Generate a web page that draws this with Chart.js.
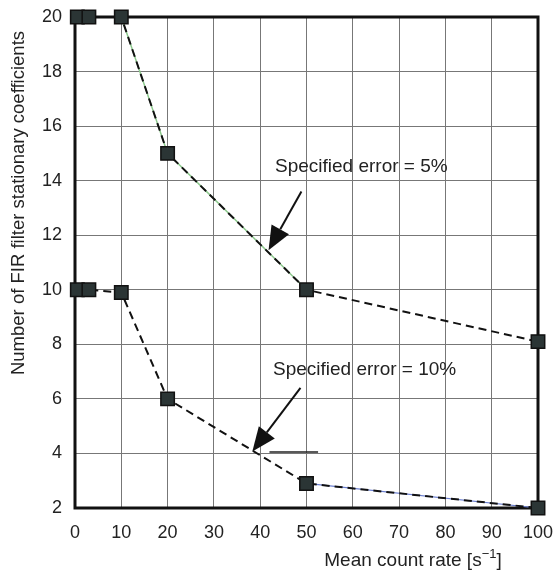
<!DOCTYPE html>
<html>
<head>
<meta charset="utf-8">
<script src="https://cdn.jsdelivr.net/npm/chart.js@4.4.1/dist/chart.umd.min.js"></script>
<style>
  html, body { margin: 0; padding: 0; background: #fff; }
  #wrap { width: 553px; height: 571px; }
</style>
</head>
<body>
<div id="wrap"><canvas id="firChart" width="553" height="571"></canvas></div>
<script>
// mean count rate (s^-1) and number of coefficients
const rateX = [0.5, 3, 10, 20, 50, 100];
const coef5 = [20, 20, 20, 15, 10, 8.1];
const coef10 = [10, 10, 9.9, 6, 2.9, 2];
const xTicks = [0, 10, 20, 30, 40, 50, 60, 70, 80, 90, 100];
const yTicks = [2, 4, 6, 8, 10, 12, 14, 16, 18, 20];

const FONT = '"Liberation Sans", Arial, Helvetica, sans-serif';

function pts(ys) {
  return rateX.map((x, i) => ({ x: x, y: ys[i] }));
}

function noPad(s) {
  s.paddingTop = 0; s.paddingBottom = 0; s.paddingLeft = 0; s.paddingRight = 0;
}

// frame, labels and arrows
const extras = {
  id: 'extras',
  beforeDatasetsDraw(chart) {
    const { ctx, chartArea: a } = chart;
    ctx.save();
    ctx.strokeStyle = '#111';
    ctx.lineWidth = 3;
    ctx.strokeRect(a.left, a.top, a.right - a.left, a.bottom - a.top);
    ctx.restore();
  },
  afterDraw(chart) {
    const { ctx, scales: { x, y } } = chart;
    ctx.save();
    ctx.fillStyle = '#222';
    ctx.font = '19px ' + FONT;
    ctx.textBaseline = 'middle';
    ctx.fillText('Specified error = 5%', 275, y.getPixelForValue(14.5));
    ctx.fillText('Specified error = 10%', 273, y.getPixelForValue(7.05));

    const arrow = (x0, y0, x1, y1) => {
      const px0 = x.getPixelForValue(x0), py0 = y.getPixelForValue(y0);
      const px1 = x.getPixelForValue(x1), py1 = y.getPixelForValue(y1);
      const ang = Math.atan2(py1 - py0, px1 - px0);
      const len = 24, half = 10;
      ctx.strokeStyle = '#111';
      ctx.lineWidth = 2;
      ctx.beginPath();
      ctx.moveTo(px0, py0);
      ctx.lineTo(px1 - Math.cos(ang) * len, py1 - Math.sin(ang) * len);
      ctx.stroke();
      ctx.beginPath();
      ctx.moveTo(px1, py1);
      ctx.lineTo(px1 - Math.cos(ang) * len + Math.sin(ang) * half, py1 - Math.sin(ang) * len - Math.cos(ang) * half);
      ctx.lineTo(px1 - Math.cos(ang) * len - Math.sin(ang) * half, py1 - Math.sin(ang) * len + Math.cos(ang) * half);
      ctx.closePath();
      ctx.fillStyle = '#111';
      ctx.fill();
    };
    arrow(48.9, 13.6, 41.8, 11.45);
    arrow(48.7, 6.4, 38.3, 4.07);

    // short stroke next to the 10% arrow tip
    ctx.strokeStyle = '#222';
    ctx.lineWidth = 1.5;
    ctx.beginPath();
    ctx.moveTo(x.getPixelForValue(42), y.getPixelForValue(4.05));
    ctx.lineTo(x.getPixelForValue(52.5), y.getPixelForValue(4.05));
    ctx.stroke();

    // axis titles
    ctx.fillStyle = '#222';
    ctx.textBaseline = 'alphabetic';
    const ty = 566;
    const t1 = 'Mean count rate [s';
    const sup = '\u22121';
    ctx.font = '19px ' + FONT;
    const w1 = ctx.measureText(t1).width;
    const wEnd = ctx.measureText(']').width;
    ctx.font = '13px ' + FONT;
    const ws = ctx.measureText(sup).width;
    const startX = 413 - (w1 + ws + wEnd) / 2;
    ctx.textAlign = 'left';
    ctx.font = '19px ' + FONT;
    ctx.fillText(t1, startX, ty);
    ctx.font = '13px ' + FONT;
    ctx.fillText(sup, startX + w1, ty - 8);
    ctx.font = '19px ' + FONT;
    ctx.fillText(']', startX + w1 + ws, ty);

    ctx.translate(19, 203);
    ctx.rotate(-Math.PI / 2);
    ctx.textAlign = 'center';
    ctx.textBaseline = 'middle';
    ctx.font = '18.5px ' + FONT;
    ctx.fillText('Number of FIR filter stationary coefficients', 0, 0);
    ctx.restore();
  }
};

const markerStyle = {
  pointStyle: 'rect',
  pointRadius: 9.5,
  pointHoverRadius: 9.5,
  pointBackgroundColor: '#2b3535',
  pointBorderColor: '#111',
  pointBorderWidth: 1.5,
  borderColor: '#111',
  borderWidth: 2,
  borderDash: [8, 5],
  showLine: true,
  clip: false
};

new Chart(document.getElementById('firChart'), {
  type: 'scatter',
  data: {
    datasets: [
      Object.assign({ label: 'Specified error = 5%', data: pts(coef5), order: 1 }, markerStyle),
      Object.assign({ label: 'Specified error = 10%', data: pts(coef10), order: 1 }, markerStyle),
      {
        label: 'trace 5%',
        data: pts(coef5).slice(2, 5),
        showLine: true, pointRadius: 0, borderColor: '#8cc88c', borderWidth: 1.5, order: 2
      },
      {
        label: 'trace 10%',
        data: pts(coef10).slice(4, 6),
        showLine: true, pointRadius: 0, borderColor: '#6b7fd0', borderWidth: 1.2, order: 2
      }
    ]
  },
  options: {
    responsive: false,
    animation: false,
    layout: { padding: { left: 0, top: 17, right: 15, bottom: 0 } },
    plugins: {
      legend: { display: false },
      tooltip: { enabled: false }
    },
    scales: {
      x: {
        type: 'linear',
        min: 0,
        max: 100,
        afterBuildTicks: s => { s.ticks = xTicks.map(v => ({ value: v })); },
        afterFit: s => { s.height = 63; noPad(s); },
        grid: { color: '#777', lineWidth: 1, drawTicks: false },
        border: { display: false },
        ticks: { padding: 14, color: '#222', font: { family: FONT, size: 18 }, maxRotation: 0 }
      },
      y: {
        type: 'linear',
        min: 2,
        max: 20,
        afterBuildTicks: s => { s.ticks = yTicks.map(v => ({ value: v })); },
        afterFit: s => { s.width = 75; noPad(s); },
        grid: { color: '#777', lineWidth: 1, drawTicks: false },
        border: { display: false },
        ticks: { padding: 13, color: '#222', font: { family: FONT, size: 18 } }
      }
    }
  },
  plugins: [extras]
});
</script>
</body>
</html>
